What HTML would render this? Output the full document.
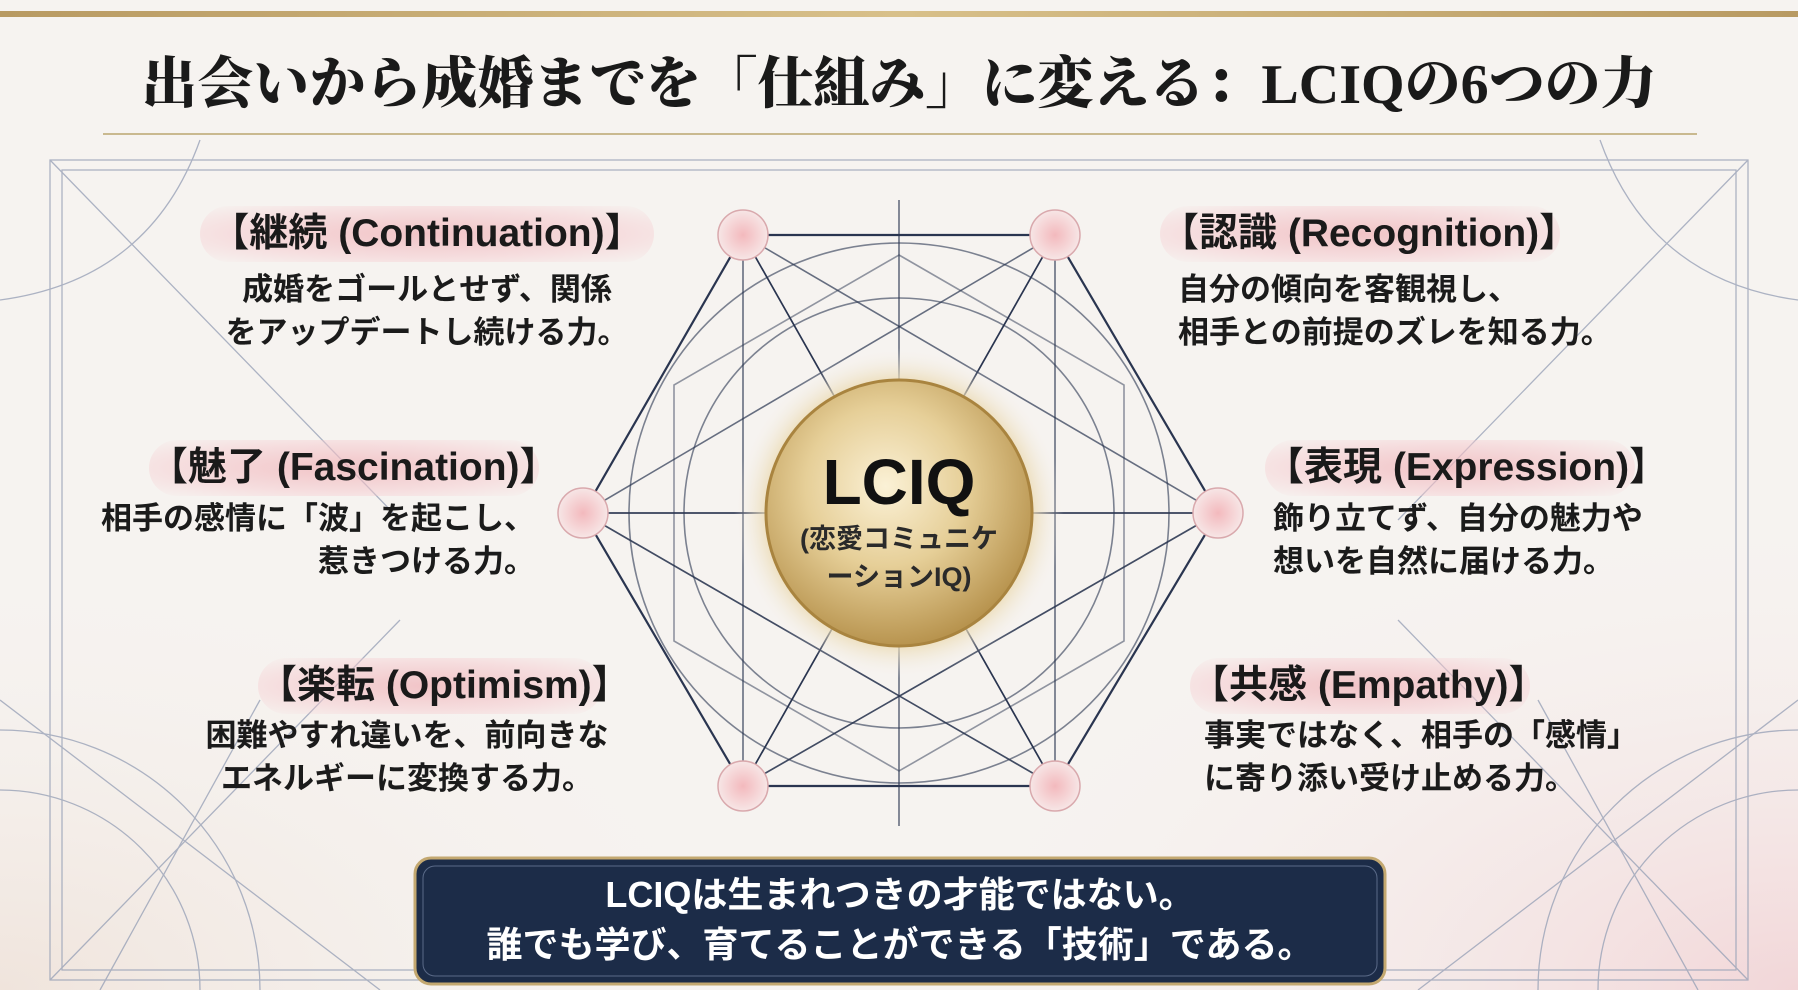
<!DOCTYPE html>
<html style="overflow:hidden;width:1798px;height:990px"><head><meta charset="utf-8"><style>
html,body{margin:0;padding:0}
body{width:1798px;height:990px;overflow:hidden;background:#f6f3f0;position:relative;font-family:"Liberation Sans","Noto Sans CJK JP",sans-serif;}
.t{position:absolute;white-space:nowrap;font-weight:700;color:#1b1b1b;}
.h{position:absolute;font-size:39px;font-weight:700;color:#1a1a1a;white-space:nowrap;height:56px;line-height:56px;border-radius:28px;background:radial-gradient(ellipse at center,rgba(240,180,185,.75) 0%,rgba(245,200,205,.5) 60%,rgba(246,243,240,0) 100%);text-align:center;}
.b{font-size:31px;line-height:43px;}
</style></head><body>
<svg width="1798" height="990" style="position:absolute;left:0;top:0;display:block">
<defs>
<radialGradient id="bgp" cx="100%" cy="100%" r="50%"><stop offset="0" stop-color="#f2d6d8"/><stop offset="1" stop-color="#f6f3f0" stop-opacity="0"/></radialGradient>
<radialGradient id="bgp2" cx="0%" cy="100%" r="45%"><stop offset="0" stop-color="#f0e4dc"/><stop offset="1" stop-color="#f6f3f0" stop-opacity="0"/></radialGradient>
<radialGradient id="gold" cx="45%" cy="40%" r="60%"><stop offset="0" stop-color="#fbf1d6"/><stop offset=".5" stop-color="#e6cf98"/><stop offset="1" stop-color="#b8944f"/></radialGradient>
<radialGradient id="halo"><stop offset=".75" stop-color="#e8d3a0"/><stop offset="1" stop-color="#f6f3f0" stop-opacity="0"/></radialGradient>
<radialGradient id="pk"><stop offset="0" stop-color="#f3b9bd"/><stop offset="1" stop-color="#f7e6e6"/></radialGradient>
<linearGradient id="gl" x1="0" x2="1"><stop offset="0" stop-color="#b89a62"/><stop offset=".5" stop-color="#d8c08a"/><stop offset="1" stop-color="#b89a62"/></linearGradient>
</defs>
<rect width="1798" height="990" fill="url(#bgp)"/>
<rect width="1798" height="990" fill="url(#bgp2)"/>
<rect x="0" y="11" width="1798" height="6" fill="url(#gl)"/>
<line x1="103" y1="134" x2="1697" y2="134" stroke="#c9b98f" stroke-width="2"/>
<g stroke="#9aa3b8" stroke-width="1.3" fill="none" opacity=".8">
<rect x="50" y="160" width="1698" height="820"/>
<rect x="62" y="170" width="1674" height="800"/>
<line x1="50" y1="160" x2="400" y2="520"/><line x1="1748" y1="160" x2="1398" y2="520"/>
<line x1="50" y1="980" x2="400" y2="620"/><line x1="1748" y1="980" x2="1398" y2="620"/>
<path d="M0 300 Q150 280 200 140"/><path d="M1798 300 Q1650 280 1600 140"/>
<circle cx="0" cy="990" r="260"/><circle cx="0" cy="990" r="200"/><circle cx="1798" cy="990" r="260"/><circle cx="1798" cy="990" r="200"/>
<path d="M0 700 L380 990"/><path d="M1798 700 L1418 990"/>
<path d="M100 990 L260 700"/><path d="M1698 990 L1538 700"/>
</g>
<g stroke="#2a3550" stroke-width="1.6" fill="none">
<circle cx="899" cy="513" r="270" opacity=".6"/>
<circle cx="899" cy="513" r="215" opacity=".6"/>
<polygon points="743,235 1055,235 1218,513 1055,786 743,786 583,513" stroke-width="2.2"/>
<polygon points="743,235 1218,513 743,786" opacity=".7"/>
<polygon points="1055,235 1055,786 583,513" opacity=".7"/>
<polygon points="743,235 1055,786 583,513 1218,513 743,786 1055,235" opacity=".6"/>
<line x1="743" y1="235" x2="1055" y2="786"/><line x1="1055" y1="235" x2="743" y2="786"/><line x1="583" y1="513" x2="1218" y2="513"/>
<line x1="899" y1="200" x2="899" y2="826" opacity=".7"/>
<polygon points="899,255 1124,385 1124,641 899,771 674,641 674,385" opacity=".5"/>
</g>
<g fill="url(#pk)" stroke="#d9a9ad" stroke-width="1.5">
<circle cx="743" cy="235" r="25"/><circle cx="1055" cy="235" r="25"/><circle cx="1218" cy="513" r="25"/>
<circle cx="583" cy="513" r="25"/><circle cx="743" cy="786" r="25"/><circle cx="1055" cy="786" r="25"/>
</g>
<circle cx="899" cy="513" r="165" fill="url(#halo)"/>
<circle cx="899" cy="513" r="133" fill="url(#gold)" stroke="#a9843f" stroke-width="3"/>
<rect x="415" y="858" width="970" height="126" rx="16" fill="#1c2c48" stroke="#c3a870" stroke-width="3"/>
<rect x="423" y="866" width="954" height="110" rx="12" fill="none" stroke="#5a6a88" stroke-width="1"/>
</svg>
<div class="t" style="left:0;width:1798px;text-align:center;top:50px;font-size:56px;line-height:70px;font-family:'Liberation Serif','Noto Serif CJK SC',serif;font-weight:900;color:#1a1a1a">出会いから成婚までを「仕組み」に変える：LCIQの6つの力</div>
<div class="t" style="left:766px;width:266px;text-align:center;top:445px;font-size:64px;line-height:74px;color:#111">LCIQ</div>
<div class="t" style="left:766px;width:266px;text-align:center;top:520px;font-size:27px;line-height:38px;color:#2a2a2a;white-space:normal">(恋愛コミュニケ<br>ーションIQ)</div>

<div class="h" style="left:200px;top:206px;width:454px">【継続 (Continuation)】</div>
<div class="t b" style="left:200px;width:454px;text-align:center;top:268px">成婚をゴールとせず、関係<br>をアップデートし続ける力。</div>
<div class="h" style="left:149px;top:440px;width:390px">【魅了 (Fascination)】</div>
<div class="t b" style="left:100px;width:435px;text-align:right;top:497px">相手の感情に「波」を起こし、<br>惹きつける力。</div>
<div class="h" style="left:258px;top:658px;width:344px">【楽転 (Optimism)】</div>
<div class="t b" style="left:190px;width:434px;text-align:center;top:714px">困難やすれ違いを、前向きな<br>エネルギーに変換する力。</div>

<div class="h" style="left:1160px;top:206px;width:400px">【認識 (Recognition)】</div>
<div class="t b" style="left:1178px;top:268px">自分の傾向を客観視し、<br>相手との前提のズレを知る力。</div>
<div class="h" style="left:1265px;top:440px;width:370px">【表現 (Expression)】</div>
<div class="t b" style="left:1273px;top:497px">飾り立てず、自分の魅力や<br>想いを自然に届ける力。</div>
<div class="h" style="left:1190px;top:658px;width:340px">【共感 (Empathy)】</div>
<div class="t b" style="left:1204px;top:714px">事実ではなく、相手の「感情」<br>に寄り添い受け止める力。</div>

<div class="t" style="left:415px;width:970px;text-align:center;top:870px;font-size:36px;line-height:50px;color:#fff">LCIQは生まれつきの才能ではない。<br>誰でも学び、育てることができる「技術」である。</div>
</body></html>
